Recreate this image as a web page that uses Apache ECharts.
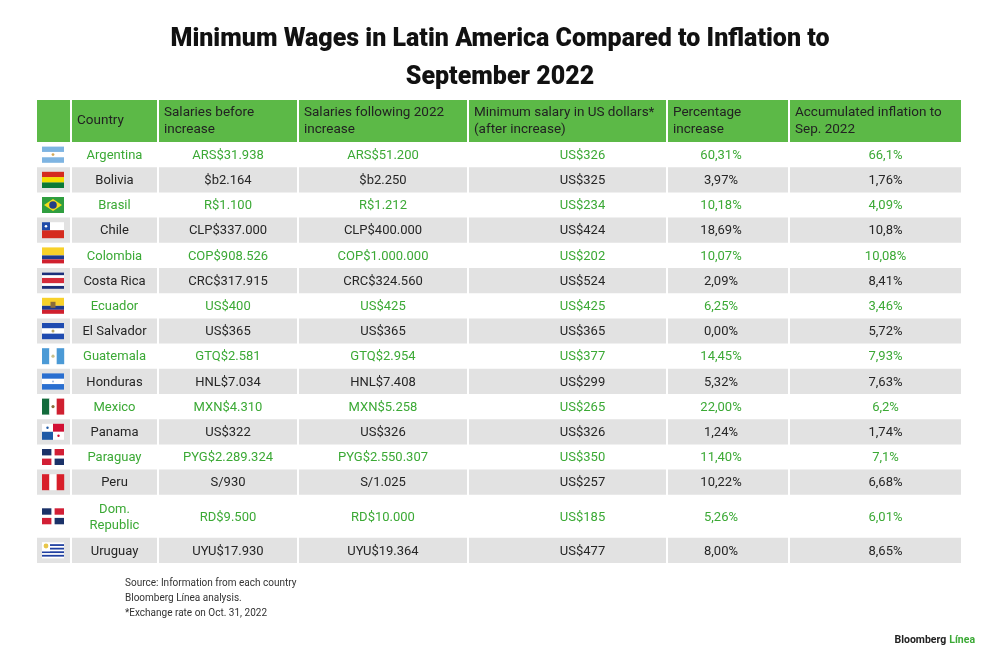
<!DOCTYPE html>
<html><head><meta charset="utf-8">
<script src="https://cdn.jsdelivr.net/npm/echarts@6/dist/echarts.min.js"></script>
<style>html,body{margin:0;padding:0;background:#fff}#c{width:1000px;height:666px}</style>
</head><body><div id="c"></div>
<script>
// ---- data ----
const headers = ['', 'Country', 'Salaries before\nincrease', 'Salaries following 2022\nincrease', 'Minimum salary in US dollars*\n(after increase)', 'Percentage\nincrease', 'Accumulated inflation to\nSep. 2022'];
const countries = ['Argentina','Bolivia','Brasil','Chile','Colombia','Costa Rica','Ecuador','El Salvador','Guatemala','Honduras','Mexico','Panama','Paraguay','Peru','Dom.\nRepublic','Uruguay'];
const flagCodes = ['AR','BO','BR','CL','CO','CR','EC','SV','GT','HN','MX','PA','DO','PE','DO','UY'];
const salariesBefore = ['ARS$31.938','$b2.164','R$1.100','CLP$337.000','COP$908.526','CRC$317.915','US$400','US$365','GTQ$2.581','HNL$7.034','MXN$4.310','US$322','PYG$2.289.324','S/930','RD$9.500','UYU$17.930'];
const salariesAfter = ['ARS$51.200','$b2.250','R$1.212','CLP$400.000','COP$1.000.000','CRC$324.560','US$425','US$365','GTQ$2.954','HNL$7.408','MXN$5.258','US$326','PYG$2.550.307','S/1.025','RD$10.000','UYU$19.364'];
const minSalaryUSD = ['US$326','US$325','US$234','US$424','US$202','US$524','US$425','US$365','US$377','US$299','US$265','US$326','US$350','US$257','US$185','US$477'];
const pctIncrease = ['60,31%','3,97%','10,18%','18,69%','10,07%','2,09%','6,25%','0,00%','14,45%','5,32%','22,00%','1,24%','11,40%','10,22%','5,26%','8,00%'];
const inflation = ['66,1%','1,76%','4,09%','10,8%','10,08%','8,41%','3,46%','5,72%','7,93%','7,63%','6,2%','1,74%','7,1%','6,68%','6,01%','8,65%'];
const titleText = 'Minimum Wages in Latin America Compared to Inflation to\nSeptember 2022';
const notesText = 'Source: Information from each country\nBloomberg Línea analysis.\n*Exchange rate on Oct. 31, 2022';

// ---- layout (axis units) ----
const TW = 926, TH = 463, HEADER_H = 42;
const colEdges = [0, 35, 122, 262, 432, 631, 753, 926];
const textShift = [0, 0, 0, 0, 15, -7, 10];
const rowHeights = countries.map(c => c.indexOf('\n') >= 0 ? 43 : 25.2);
const rowTops = [];
{ let y = HEADER_H; rowHeights.forEach(h => { rowTops.push(y); y += h; }); }

const GREEN_BG = '#5cb947', GREEN_TXT = '#3ba935', GRAY = '#e2e2e2', DARK = '#262626';
const FONT = '"Roboto", "Noto Sans", sans-serif';
const bodyCols = [countries, salariesBefore, salariesAfter, minSalaryUSD, pctIncrease, inflation];

function flagShapes(code, cx, cy) {
  const W = 22, H = 16, x0 = cx - W / 2, y0 = cy - H / 2;
  const out = [];
  const r = (x, y, w, h, fill) => out.push({type: 'rect', shape: {x: x0 + x, y: y0 + y, width: w, height: h}, style: {fill}});
  const c = (x, y, rr, fill) => out.push({type: 'circle', shape: {cx: x0 + x, cy: y0 + y, r: rr}, style: {fill}});
  const hs = cols => cols.forEach((f, i) => r(0, i * H / cols.length, W, H / cols.length + 0.2, f));
  const vs = cols => cols.forEach((f, i) => r(i * W / cols.length, 0, W / cols.length + 0.2, H, f));
  switch (code) {
    case 'AR': hs(['#7eb4e2', '#ffffff', '#7eb4e2']); c(W / 2, H / 2, 1.4, '#d2a858'); break;
    case 'BO': hs(['#d52b1e', '#f4df00', '#0a7a36']); break;
    case 'BR':
      r(0, 0, W, H, '#2f9e3f');
      out.push({type: 'polygon', shape: {points: [[x0 + 2, y0 + H / 2], [x0 + W / 2, y0 + 2], [x0 + W - 2, y0 + H / 2], [x0 + W / 2, y0 + H - 2]]}, style: {fill: '#f5dd1c'}});
      c(W / 2, H / 2, 3.8, '#223f86'); break;
    case 'CL':
      r(0, 0, W, H / 2, '#ffffff'); r(0, H / 2, W, H / 2, '#d52b1e'); r(0, 0, 8, H / 2, '#1f4aa8'); c(4, 4, 1.3, '#ffffff'); break;
    case 'CO': r(0, 0, W, H / 2, '#f8d12a'); r(0, H / 2, W, H / 4, '#1e3a8f'); r(0, 3 * H / 4, W, H / 4, '#d0202e'); break;
    case 'EC': r(0, 0, W, H / 2, '#f8d12a'); r(0, H / 2, W, H / 4, '#1e3a8f'); r(0, 3 * H / 4, W, H / 4, '#d0202e'); r(W / 2 - 2.5, H / 2 - 4, 5, 6, '#8a6d3b'); break;
    case 'CR': [['#1c2f7a', 1], ['#ffffff', 1], ['#d52b3a', 2], ['#ffffff', 1], ['#1c2f7a', 1]].reduce((y, [f, k]) => { r(0, y, W, k * H / 6 + 0.2, f); return y + k * H / 6; }, 0); break;
    case 'SV': hs(['#1f4bb0', '#ffffff', '#1f4bb0']); c(W / 2, H / 2, 1.5, '#b9a86a'); break;
    case 'HN': hs(['#2a6fd0', '#ffffff', '#2a6fd0']); c(W / 2, H / 2, 1, '#9fb8e0'); break;
    case 'GT': vs(['#4b9ad6', '#ffffff', '#4b9ad6']); c(W / 2, H / 2, 1.6, '#c9c08a'); break;
    case 'MX': vs(['#136b3c', '#ffffff', '#cf2030']); c(W / 2, H / 2, 1.6, '#8a6d3b'); break;
    case 'PE': vs(['#d81f2a', '#ffffff', '#d81f2a']); break;
    case 'PA':
      r(0, 0, W / 2, H / 2, '#ffffff'); r(W / 2, 0, W / 2, H / 2, '#d21034');
      r(0, H / 2, W / 2, H / 2, '#1f5aa6'); r(W / 2, H / 2, W / 2, H / 2, '#ffffff');
      c(W / 4, H / 4, 1.2, '#1f5aa6'); c(3 * W / 4, 3 * H / 4, 1.2, '#d21034'); break;
    case 'DO': {
      const g = 1.6;
      r(0, 0, W / 2 - g, H / 2 - g, '#1b3268'); r(W / 2 + g, 0, W / 2 - g, H / 2 - g, '#d21f35');
      r(0, H / 2 + g, W / 2 - g, H / 2 - g, '#d21f35'); r(W / 2 + g, H / 2 + g, W / 2 - g, H / 2 - g, '#1b3268'); break;
    }
    case 'UY':
      r(0, 0, W, H, '#ffffff');
      for (let i = 1; i < 9; i += 2) r(0, i * H / 9, W, H / 9, '#1f3fa0');
      r(0, 0, 8, 5 * H / 9, '#ffffff'); c(4, 3.6, 2.4, '#e8c64a'); break;
  }
  return out;
}

// build series data
const headerData = headers.map((h, i) => [i, -1]);
const bgData = [];
countries.forEach((_, r) => { if (r % 2 === 1) for (let c = 0; c < 7; c++) bgData.push([c, r]); });
const cellData = [];
bodyCols.forEach((col, ci) => col.forEach((v, r) => cellData.push([ci + 1, r])));
const flagData = flagCodes.map((f, r) => [0, r]);

function cellRect(api, c, r) {
  const top = r < 0 ? 0 : rowTops[r];
  const h = r < 0 ? HEADER_H : rowHeights[r];
  const p0 = api.coord([colEdges[c], top]);
  const p1 = api.coord([colEdges[c + 1], top + h]);
  return {x: p0[0], y: p0[1], w: p1[0] - p0[0], h: p1[1] - p0[1]};
}

const chart = echarts.init(document.getElementById('c'));
chart.setOption({
  backgroundColor: '#ffffff',
  animation: false,
  title: [
    {text: titleText, left: 'center', top: 16, textStyle: {fontFamily: FONT, fontSize: 25, fontWeight: 900, color: '#111', lineHeight: 38}},
    {text: notesText, left: 120, top: 571, textStyle: {fontFamily: FONT, fontSize: 10, fontWeight: 'normal', color: '#333', lineHeight: 15}},
    {text: '{a|Bloomberg}{b|Línea}', right: 20, top: 630, textStyle: {rich: {a: {fontFamily: FONT, fontSize: 10.5, fontWeight: 'bold', color: '#222', padding: [0, 3, 0, 0]}, b: {fontFamily: FONT, fontSize: 10.5, fontWeight: 'bold', color: '#3ba935'}}}}
  ],
  grid: {left: 36, top: 100, width: TW, height: TH},
  xAxis: {type: 'value', min: 0, max: TW, show: false},
  yAxis: {type: 'value', min: 0, max: TH, inverse: true, show: false},
  series: [
    {
      type: 'custom', name: 'rowBackground', data: bgData, silent: true,
      renderItem: (params, api) => {
        const c = api.value(0), r = api.value(1);
        const b = cellRect(api, c, r);
        return {type: 'rect', shape: {x: b.x + 1, y: b.y, width: b.w - 2, height: b.h}, style: {fill: GRAY}};
      }
    },
    {
      type: 'custom', name: 'header', data: headerData, silent: true,
      renderItem: (params, api) => {
        const c = api.value(0);
        const b = cellRect(api, c, -1);
        return {type: 'group', children: [
          {type: 'rect', shape: {x: b.x + 1, y: b.y, width: b.w - 2, height: b.h}, style: {fill: GREEN_BG}},
          {type: 'text', style: {text: headers[c], x: b.x + 6, y: b.y + b.h / 2, align: 'left', verticalAlign: 'middle', fill: '#222', font: '13.5px ' + FONT, lineHeight: 17}}
        ]};
      }
    },
    {
      type: 'custom', name: 'cells', data: cellData, silent: true,
      renderItem: (params, api) => {
        const c = api.value(0), r = api.value(1);
        const b = cellRect(api, c, r);
        const txt = bodyCols[c - 1][r];
        return {type: 'text', style: {text: txt, x: b.x + b.w / 2 + textShift[c], y: b.y + b.h / 2 + 1, align: 'center', verticalAlign: 'middle', fill: r % 2 === 0 ? GREEN_TXT : DARK, font: '13px ' + FONT, lineHeight: 16}};
      }
    },
    {
      type: 'custom', name: 'flags', data: flagData, silent: true,
      renderItem: (params, api) => {
        const r = api.value(1);
        const b = cellRect(api, 0, r);
        return {type: 'group', children: flagShapes(flagCodes[r], b.x + 17, b.y + b.h / 2)};
      }
    }
  ]
});
</script></body></html>
